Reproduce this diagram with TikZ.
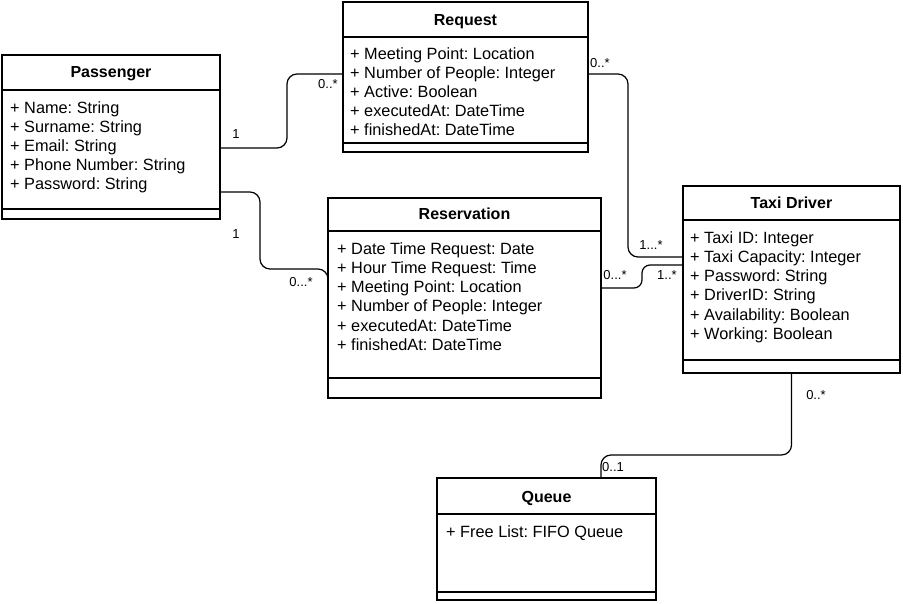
\documentclass[tikz,border=0pt]{standalone}
\usepackage{fontspec}
\setmainfont{Liberation Sans}
\frenchspacing
\begin{document}
\begin{tikzpicture}[x=1pt,y=-1pt,
  classbox/.style={draw, line width=1.2pt, rectangle, inner sep=0pt, outer sep=0pt, anchor=north west},
  ctitle/.style={anchor=base, inner sep=0pt, font=\fontsize{16}{19}\selectfont\bfseries},
  attr/.style={anchor=base west, inner sep=0pt, font=\fontsize{16.3}{19}\selectfont},
  mult/.style={inner sep=0pt, font=\fontsize{13}{15}\selectfont},
  sepline/.style={line width=1.2pt},
  conn/.style={line width=1.2pt, rounded corners=10pt}]
\useasboundingbox (0,0) rectangle (903,604);

% Passenger
\node[classbox, minimum width=218pt, minimum height=164pt] (pas) at (2,55) {};
\draw[sepline] ([yshift=-35pt]pas.north west) -- ([yshift=-35pt]pas.north east);
\draw[sepline] ([yshift=10pt]pas.south west) -- ([yshift=10pt]pas.south east);
\node[ctitle] (pasT) at ([yshift=-23pt]pas.north) {Passenger};
\foreach \t [count=\i] in {+ Name: String, + Surname: String, + Email: String, + Phone Number: String, + Password: String}
  \node[attr] (pasa\i) at (10,95+19*\i) {\t};

% Request
\node[classbox, minimum width=245pt, minimum height=150pt] (req) at (343,2) {};
\draw[sepline] ([yshift=-35pt]req.north west) -- ([yshift=-35pt]req.north east);
\draw[sepline] ([yshift=9pt]req.south west) -- ([yshift=9pt]req.south east);
\node[ctitle] (reqT) at ([yshift=-24pt]req.north) {Request};
\foreach \t [count=\i] in {+ Meeting Point: Location, + Number of People: Integer, + Active: Boolean, + executedAt: DateTime, + finishedAt: DateTime}
  \node[attr] (reqa\i) at (350,41+19*\i) {\t};

% Reservation
\node[classbox, minimum width=273pt, minimum height=200pt] (res) at (328,198) {};
\draw[sepline] ([yshift=-33pt]res.north west) -- ([yshift=-33pt]res.north east);
\draw[sepline] ([yshift=20pt]res.south west) -- ([yshift=20pt]res.south east);
\node[ctitle] (resT) at ([yshift=-22pt]res.north) {Reservation};
\foreach \t [count=\i] in {+ Date Time Request: Date, + Hour Time Request: Time, + Meeting Point: Location, + Number of People: Integer, + executedAt: DateTime, + finishedAt: DateTime}
  \node[attr] (resa\i) at (337,236+19*\i) {\t};

% Taxi Driver
\node[classbox, minimum width=217pt, minimum height=187pt] (taxi) at (683,186) {};
\draw[sepline] ([yshift=-34pt]taxi.north west) -- ([yshift=-34pt]taxi.north east);
\draw[sepline] ([yshift=13pt]taxi.south west) -- ([yshift=13pt]taxi.south east);
\node[ctitle] (taxiT) at ([yshift=-23pt]taxi.north) {Taxi Driver};
\foreach \t [count=\i] in {+ Taxi ID: Integer, + Taxi Capacity: Integer, + Password: String, + DriverID: String, + Availability: Boolean, + Working: Boolean}
  \node[attr] (taxia\i) at (690,225+19*\i) {\t};

% Queue
\node[classbox, minimum width=219pt, minimum height=122pt] (queue) at (437,478) {};
\draw[sepline] ([yshift=-36pt]queue.north west) -- ([yshift=-36pt]queue.north east);
\draw[sepline] ([yshift=8pt]queue.south west) -- ([yshift=8pt]queue.south east);
\node[ctitle] (queueT) at ([yshift=-24pt]queue.north) {Queue};
\node[attr] (queuea1) at (446,537) {+ Free List: FIFO Queue};

% Connectors
\draw[conn] ([yshift=-11pt]pas.east) -| ([xshift=-56pt,yshift=3pt]req.west) -- ([yshift=3pt]req.west);
\draw[conn] ([yshift=-55pt]pas.east) -| ([xshift=-68pt,yshift=29pt]res.west) -| (res.west);
\draw[conn] ([yshift=3pt]req.east) -| ([xshift=-55pt,yshift=22.5pt]taxi.west) -- ([yshift=22.5pt]taxi.west);
\draw[conn, rounded corners=8pt] ([yshift=10pt]res.east) -| ([xshift=-41pt,yshift=14.5pt]taxi.west) -- ([yshift=14.5pt]taxi.west);
\draw[conn] (taxi.south) |- ([xshift=54.5pt,yshift=23pt]queue.north) -- ([xshift=54.5pt]queue.north);

% Multiplicities
\node[mult] (m1) at (236,134) {1};
\node[mult] (m2) at (328,84) {0..*};
\node[mult] (m3) at (236,234) {1};
\node[mult] (m4) at (301,282) {0...*};
\node[mult] (m5) at (600,63) {0..*};
\node[mult] (m6) at (651,245) {1...*};
\node[mult] (m7) at (615,275) {0...*};
\node[mult] (m8) at (667,275) {1..*};
\node[mult] (m9) at (816,395) {0..*};
\node[mult] (m10) at (613,467) {0..1};
\end{tikzpicture}
\end{document}
